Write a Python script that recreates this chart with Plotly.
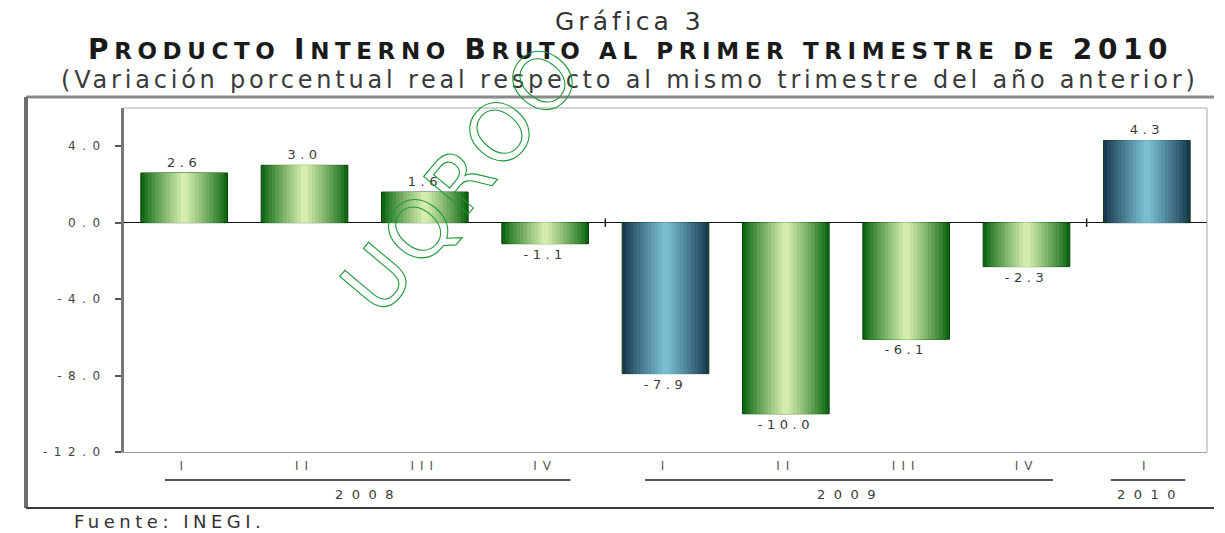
import plotly.graph_objects as go

# ---- data ----
quarters = ["I", "II", "III", "IV", "I", "II", "III", "IV", "I"]
years = ["2008", "2009", "2010"]
values = [2.6, 3.0, 1.6, -1.1, -7.9, -10.0, -6.1, -2.3, 4.3]
bar_kind = ["g", "g", "g", "g", "b", "g", "g", "g", "b"]
y_tickvals = [-12, -8, -4, 0, 4]
y_ticklabels = ["-12.0", "-8.0", "-4.0", "0.0", "4.0"]

# ---- styling ----
W = 0.72
N = 12
palettes = {
    "g": ((14, 104, 18), (212, 237, 172)),
    "b": ((24, 58, 78), (122, 190, 210)),
}
FONT = "DejaVu Sans, Verdana, sans-serif"
TXT = "#3a3a3a"
OFF = 8  # page body margin


def mix(c0, c1, t):
    return "rgb(%d,%d,%d)" % tuple(round(a + (b - a) * t) for a, b in zip(c0, c1))


def ls(s, px):
    return '<span style="letter-spacing:%spx">%s</span>' % (px, s)


x = list(range(len(values)))
labels = [f"{v:.1f}" for v in values]

fig = go.Figure()
for k in range(N):
    t = (k / (N - 1)) ** 0.9
    colors = [mix(palettes[c][0], palettes[c][1], t) for c in bar_kind]
    base = k == 0
    fig.add_trace(go.Bar(
        x=x, y=values, width=W * (1 - k / N),
        marker=dict(color=colors,
                    line=dict(color="#0b3d0b" if base else "rgba(0,0,0,0)", width=1 if base else 0)),
        text=[ls(s, 4.5) for s in labels] if base else None,
        textposition="outside" if base else "none",
        textfont=dict(family=FONT, size=13, color=TXT),
        cliponaxis=False, hoverinfo="skip", showlegend=False,
    ))


def px2paper_x(px):
    return (px - 124) / 1083


def px2paper_y(py):
    return (452 - py) / 344


shapes = []
shapes.append(dict(type="line", xref="paper", yref="paper", x0=0, x1=1, y0=1, y1=1,
                   line=dict(color="#a8a8a8", width=1)))
shapes.append(dict(type="line", xref="paper", yref="paper", x0=1, x1=1, y0=0, y1=1,
                   line=dict(color="#a8a8a8", width=1)))
for xb in (3.5, 7.5):
    shapes.append(dict(type="line", xref="x", yref="y", x0=xb, x1=xb, y0=-0.22, y1=0.22,
                       line=dict(color="#222", width=1.5)))
for a, b in ((-0.16, 3.21), (3.83, 7.22), (7.70, 8.32)):
    shapes.append(dict(type="line", xref="x", yref="paper", x0=a, x1=b,
                       y0=px2paper_y(480), y1=px2paper_y(480),
                       line=dict(color="#222", width=1.5)))
xl, xr = px2paper_x(26), px2paper_x(1214)
yt, yb = px2paper_y(97), px2paper_y(508)
shapes.append(dict(type="line", xref="paper", yref="paper", x0=xl, x1=xr, y0=yt, y1=yt,
                   line=dict(color="#8a8a8a", width=3)))
shapes.append(dict(type="line", xref="paper", yref="paper", x0=xl, x1=xl, y0=yb, y1=yt,
                   line=dict(color="#6e6e6e", width=4)))
shapes.append(dict(type="line", xref="paper", yref="paper", x0=xl, x1=xr, y0=yb, y1=yb,
                   line=dict(color="#3c3c3c", width=2)))

annotations = []
year_pos = [1.5, 5.5, 8.0]
for yr, xp in zip(years, year_pos):
    annotations.append(dict(x=xp, xref="x", y=px2paper_y(494), yref="paper", text=ls(yr, 8.5),
                            showarrow=False, font=dict(family=FONT, size=13, color=TXT),
                            xanchor="center", yanchor="middle", xshift=4))

big, small, tsp = 28, 23, 5.6
title_words = ["PRODUCTO", "INTERNO", "BRUTO", "AL PRIMER TRIMESTRE DE", "2010"]


def sp(s, size):
    return '<span style="font-size:%dpx;letter-spacing:%spx">%s</span>' % (size, tsp, s)


def smallcaps(w):
    if w == "2010":
        return sp(w, big)
    if w.startswith("AL"):
        return sp(w, small)
    return sp(w[0], big) + sp(w[1:], small)


main_title = "<b>" + sp(" ", small).join(smallcaps(w) for w in title_words) + "</b>"
cx = px2paper_x(630)
annotations += [
    dict(x=cx, y=px2paper_y(21), xref="paper", yref="paper", text=ls("Gráfica 3", 4), showarrow=False,
         font=dict(family=FONT, size=25, color="#333"), xanchor="center", yanchor="middle"),
    dict(x=cx, y=px2paper_y(50), xref="paper", yref="paper", text=main_title, showarrow=False,
         font=dict(family=FONT, size=big, color="#1a1a1a"), xanchor="center", yanchor="middle"),
    dict(x=cx, y=px2paper_y(80), xref="paper", yref="paper",
         text=ls("(Variación porcentual real respecto al mismo trimestre del año anterior)", 3.8),
         showarrow=False, font=dict(family=FONT, size=24, color="#3a3a3a"),
         xanchor="center", yanchor="middle"),
    dict(x=px2paper_x(72), y=px2paper_y(521), xref="paper", yref="paper", text=ls("Fuente: INEGI.", 4.5),
         showarrow=False, font=dict(family=FONT, size=18, color="#333"), xanchor="left", yanchor="middle"),
    dict(x=px2paper_x(462), y=px2paper_y(178), xref="paper", yref="paper",
         text='<span style="fill:none;stroke:#1e9a3c;stroke-width:1.1;letter-spacing:4px">UQROO</span>',
         textangle=-50, showarrow=False, font=dict(family=FONT, size=80, color="#1e9a3c"),
         xanchor="center", yanchor="middle"),
]

fig.update_layout(
    width=1225 - OFF, height=533 - OFF,
    margin=dict(l=124 - OFF, r=18, t=108 - OFF, b=81),
    paper_bgcolor="white", plot_bgcolor="white",
    barmode="overlay",
    shapes=shapes, annotations=annotations,
    xaxis=dict(range=[-0.5, 8.5], tickvals=x, ticktext=[ls(q, 6) for q in quarters],
               showgrid=False, zeroline=False, showline=True, linecolor="#a0a0a0", linewidth=1,
               ticks="", tickfont=dict(family=FONT, size=12, color="#555"), ticklabelstandoff=3),
    yaxis=dict(range=[-12, 6], tickvals=y_tickvals, ticktext=[ls(t, 6.5) for t in y_ticklabels],
               showgrid=False, zeroline=True, zerolinecolor="#111", zerolinewidth=1,
               showline=True, linecolor="#787878", linewidth=3,
               ticks="outside", ticklen=6, tickcolor="#555", tickwidth=1.5,
               tickfont=dict(family=FONT, size=12, color="#444"), ticklabelstandoff=6),
)

fig.write_html("out.html")
